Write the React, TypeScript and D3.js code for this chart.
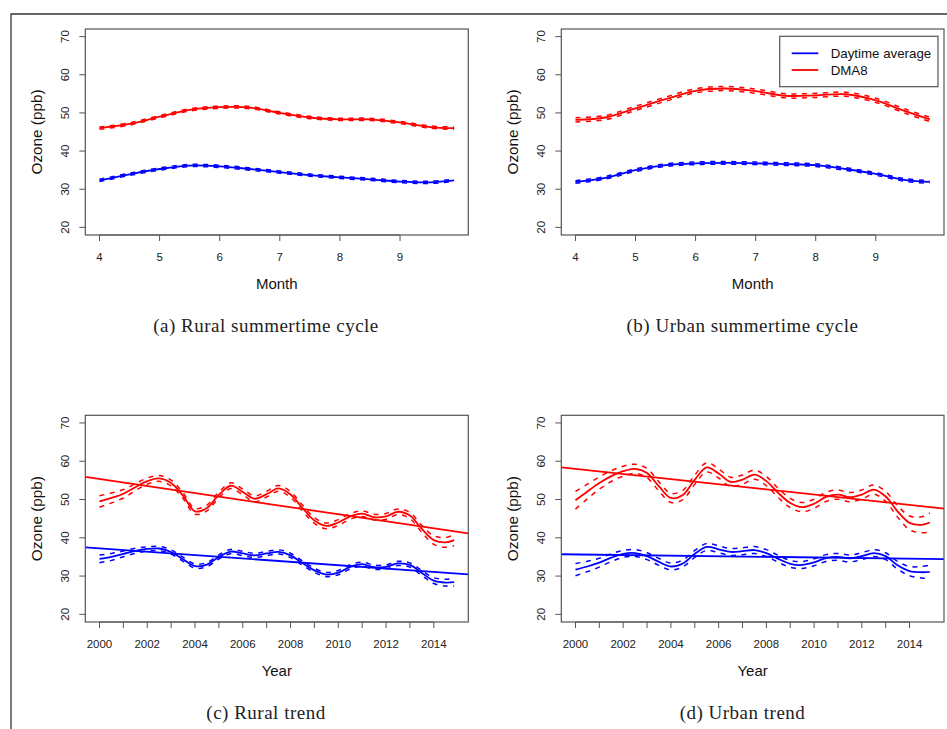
import { useRef, useEffect } from 'react';
import * as d3 from 'd3';

const RED = '#ff0000';
const BLUE = '#0000ff';
const AXIS_GREY = '#555555';

// seasonal cycle (month of year)
const MONTHS = [4, 4.5, 5, 5.5, 6, 6.5, 7, 7.5, 8, 8.5, 9, 9.5, 9.9];
const RURAL_CYCLE_DMA8 = [46.0, 47.1, 49.0, 50.8, 51.5, 51.4, 50.0, 48.8, 48.3, 48.3, 47.5, 46.3, 46.0];
const RURAL_CYCLE_DAY = [32.3, 33.9, 35.3, 36.2, 36.0, 35.3, 34.5, 33.7, 33.1, 32.6, 32.0, 31.8, 32.3];
const URBAN_CYCLE_DMA8 = [48.2, 48.8, 51.2, 53.6, 55.8, 56.4, 55.7, 54.5, 54.6, 54.9, 53.3, 50.4, 48.3];
const URBAN_CYCLE_DAY = [31.9, 33.0, 35.0, 36.3, 36.8, 36.9, 36.8, 36.6, 36.3, 35.3, 34.0, 32.4, 31.9];
const RURAL_CYCLE_CI = [0.3, 0.3];   // DMA8, daytime
const URBAN_CYCLE_CI = [0.55, 0.35];

// long-term trend
const YEARS = [2000, 2000.5, 2001, 2001.5, 2002, 2002.5, 2003, 2003.5, 2004, 2004.5, 2005, 2005.5,
  2006, 2006.5, 2007, 2007.5, 2008, 2008.5, 2009, 2009.5, 2010, 2010.5, 2011, 2011.5, 2012, 2012.5,
  2013, 2013.5, 2014, 2014.5, 2014.85];
const RURAL_TREND_DMA8 = [49.5, 50.4, 51.5, 53.2, 54.8, 55.5, 54.3, 51.0, 46.9, 47.8, 51.2, 53.6, 52.0, 50.2,
  51.4, 52.9, 51.3, 47.8, 44.5, 43.1, 44.0, 45.6, 46.3, 45.4, 45.6, 46.8, 45.8, 42.3, 39.4, 38.8, 39.4];
const RURAL_TREND_DAY = [34.5, 35.0, 35.8, 36.6, 37.1, 37.2, 36.3, 34.4, 32.6, 33.0, 35.0, 36.4, 35.9, 35.4,
  35.9, 36.3, 35.4, 33.4, 31.5, 30.4, 30.9, 32.4, 33.1, 32.3, 32.4, 33.3, 32.9, 30.8, 28.8, 28.3, 28.4];
const URBAN_TREND_DMA8 = [49.8, 52.1, 54.3, 56.1, 57.4, 58.0, 56.9, 53.4, 50.4, 51.2, 55.2, 58.4, 56.8, 54.6,
  55.2, 56.5, 54.8, 51.7, 49.1, 48.0, 48.9, 50.7, 51.3, 50.6, 51.3, 52.6, 50.8, 46.9, 43.9, 43.4, 44.0];
const URBAN_TREND_DAY = [31.7, 32.5, 33.5, 34.8, 35.8, 36.0, 35.2, 33.7, 32.5, 33.3, 35.8, 37.6, 37.0, 36.3,
  36.5, 36.8, 36.0, 34.5, 33.2, 32.9, 33.6, 34.7, 35.0, 34.6, 35.2, 36.0, 35.2, 32.8, 31.3, 31.0, 31.1];
const RURAL_CI_DMA8 = [1.5, 1.3, 1.1, 0.9, 0.8, 0.75, 0.75, 0.75, 0.75, 0.75, 0.75, 0.75, 0.75, 0.75, 0.75,
  0.75, 0.75, 0.75, 0.75, 0.75, 0.75, 0.75, 0.75, 0.75, 0.75, 0.75, 0.8, 0.9, 1.1, 1.3, 1.45];
const RURAL_CI_DAY = [1.0, 0.9, 0.75, 0.65, 0.55, 0.55, 0.55, 0.55, 0.55, 0.55, 0.55, 0.55, 0.55, 0.55, 0.55,
  0.55, 0.55, 0.55, 0.55, 0.55, 0.55, 0.55, 0.55, 0.55, 0.55, 0.55, 0.55, 0.65, 0.75, 0.9, 1.0];
const URBAN_CI_DMA8 = [2.3, 1.9, 1.6, 1.4, 1.3, 1.2, 1.2, 1.2, 1.2, 1.2, 1.2, 1.2, 1.2, 1.2, 1.2,
  1.2, 1.2, 1.2, 1.2, 1.2, 1.2, 1.2, 1.2, 1.2, 1.2, 1.2, 1.3, 1.5, 1.8, 2.1, 2.5];
const URBAN_CI_DAY = [1.6, 1.35, 1.15, 1.0, 0.9, 0.9, 0.9, 0.9, 0.9, 0.9, 0.9, 0.9, 0.9, 0.9, 0.9,
  0.9, 0.9, 0.9, 0.9, 0.9, 0.9, 0.9, 0.9, 0.9, 0.9, 0.9, 0.9, 1.0, 1.2, 1.5, 1.8];
// linear fits: [level at 2000, slope per year]
const RURAL_FIT_DMA8 = [55.35, -0.92];
const RURAL_FIT_DAY = [37.24, -0.44];
const URBAN_FIT_DMA8 = [58.0, -0.671];
const URBAN_FIT_DAY = [35.65, -0.078];

const Y_TICKS = [20, 30, 40, 50, 60, 70];
const MONTH_TICKS = [4, 5, 6, 7, 8, 9];
const YEAR_TICKS = d3.range(2000, 2015);
const LEGEND = ['Daytime average', 'DMA8'];

const LEFT_COL = { left: 85.3, right: 468.3, capX: 266 };
const RIGHT_COL = { left: 561.3, right: 944, capX: 742.5 };
const TOP_ROW = { top: 29, bottom: 235 };
const BOTTOM_ROW = { top: 415.3, bottom: 622 };

// R style 4% padding around the data range
const pad = ([a, b]: number[]) => [a - (b - a) * 0.04, b + (b - a) * 0.04];

const PANELS = [
  { id: 'a', ...LEFT_COL, ...TOP_ROW, x: MONTHS, xTicks: MONTH_TICKS, xLab: 'Month', legend: false,
    caption: '(a) Rural summertime cycle',
    series: [
      { y: RURAL_CYCLE_DAY, ci: MONTHS.map(() => RURAL_CYCLE_CI[1]), color: BLUE },
      { y: RURAL_CYCLE_DMA8, ci: MONTHS.map(() => RURAL_CYCLE_CI[0]), color: RED },
    ], fits: [] as { f: number[]; color: string }[] },
  { id: 'b', ...RIGHT_COL, ...TOP_ROW, x: MONTHS, xTicks: MONTH_TICKS, xLab: 'Month', legend: true,
    caption: '(b) Urban summertime cycle',
    series: [
      { y: URBAN_CYCLE_DAY, ci: MONTHS.map(() => URBAN_CYCLE_CI[1]), color: BLUE },
      { y: URBAN_CYCLE_DMA8, ci: MONTHS.map(() => URBAN_CYCLE_CI[0]), color: RED },
    ], fits: [] },
  { id: 'c', ...LEFT_COL, ...BOTTOM_ROW, x: YEARS, xTicks: YEAR_TICKS, xLab: 'Year', legend: false,
    caption: '(c) Rural trend',
    series: [
      { y: RURAL_TREND_DAY, ci: RURAL_CI_DAY, color: BLUE },
      { y: RURAL_TREND_DMA8, ci: RURAL_CI_DMA8, color: RED },
    ], fits: [{ f: RURAL_FIT_DAY, color: BLUE }, { f: RURAL_FIT_DMA8, color: RED }] },
  { id: 'd', ...RIGHT_COL, ...BOTTOM_ROW, x: YEARS, xTicks: YEAR_TICKS, xLab: 'Year', legend: false,
    caption: '(d) Urban trend',
    series: [
      { y: URBAN_TREND_DAY, ci: URBAN_CI_DAY, color: BLUE },
      { y: URBAN_TREND_DMA8, ci: URBAN_CI_DMA8, color: RED },
    ], fits: [{ f: URBAN_FIT_DAY, color: BLUE }, { f: URBAN_FIT_DMA8, color: RED }] },
];

export default function App() {
  const svgRef = useRef<SVGSVGElement>(null);

  useEffect(() => {
    const svg = d3.select(svgRef.current);
    svg.selectAll('*').remove();
    const sans = 'Liberation Sans, Arial, sans-serif';

    // frame of the figure
    svg.append('path').attr('d', 'M11,729 L11,14 L947,14')
      .attr('fill', 'none').attr('stroke', '#333').attr('stroke-width', 1.3);

    PANELS.forEach(p => {
      const x = d3.scaleLinear().domain(pad(d3.extent(p.x) as number[])).range([p.left, p.right]);
      const y = d3.scaleLinear().domain(pad([20, 70])).range([p.bottom, p.top]);
      const g = svg.append('g');

      g.append('clipPath').attr('id', `clip-${p.id}`)
        .append('rect').attr('x', p.left).attr('y', p.top)
        .attr('width', p.right - p.left).attr('height', p.bottom - p.top);
      const plot = g.append('g').attr('clip-path', `url(#clip-${p.id})`);

      // fitted linear trends
      p.fits.forEach(({ f, color }) => {
        const [x0, x1] = x.domain();
        plot.append('line')
          .attr('x1', x(x0)).attr('y1', y(f[0] + f[1] * (x0 - 2000)))
          .attr('x2', x(x1)).attr('y2', y(f[0] + f[1] * (x1 - 2000)))
          .attr('stroke', color).attr('stroke-width', 1.8);
      });

      p.series.forEach(s => {
        const mk = (off: number) => d3.line<number>()
          .x((_, i) => x(p.x[i]))
          .y((v, i) => y(v + off * s.ci[i]))
          .curve(d3.curveCatmullRom)(s.y);
        [-1, 1].forEach(k => {
          plot.append('path').attr('d', mk(k)).attr('fill', 'none')
            .attr('stroke', s.color).attr('stroke-width', 1.5).attr('stroke-dasharray', '5,5.5');
        });
        plot.append('path').attr('d', mk(0)).attr('fill', 'none')
          .attr('stroke', s.color).attr('stroke-width', 1.8);
      });

      // box
      g.append('rect').attr('x', p.left).attr('y', p.top)
        .attr('width', p.right - p.left).attr('height', p.bottom - p.top)
        .attr('fill', 'none').attr('stroke', AXIS_GREY).attr('stroke-width', 1.2);

      // y axis
      Y_TICKS.forEach(t => {
        g.append('line').attr('x1', p.left).attr('x2', p.left - 6)
          .attr('y1', y(t)).attr('y2', y(t)).attr('stroke', AXIS_GREY).attr('stroke-width', 1);
        g.append('text')
          .attr('transform', `translate(${p.left - 20},${y(t)}) rotate(-90)`)
          .attr('text-anchor', 'middle').attr('dominant-baseline', 'central')
          .attr('font-family', sans).attr('font-size', 11.5).attr('fill', '#222')
          .text(t);
      });
      g.append('text')
        .attr('transform', `translate(${p.left - 49},${(p.top + p.bottom) / 2}) rotate(-90)`)
        .attr('text-anchor', 'middle').attr('dominant-baseline', 'central')
        .attr('font-family', sans).attr('font-size', 15.3).attr('fill', '#111')
        .text('Ozone (ppb)');

      // x axis
      p.xTicks.forEach(t => {
        g.append('line').attr('x1', x(t)).attr('x2', x(t))
          .attr('y1', p.bottom).attr('y2', p.bottom + 6).attr('stroke', AXIS_GREY).attr('stroke-width', 1);
        if (p.xLab === 'Year' && t % 2 === 1) return;
        g.append('text').attr('x', x(t)).attr('y', p.bottom + 22)
          .attr('text-anchor', 'middle').attr('dominant-baseline', 'central')
          .attr('font-family', sans).attr('font-size', 11.5).attr('fill', '#222')
          .text(t);
      });
      g.append('line').attr('x1', x(p.xTicks[0])).attr('x2', x(p.xTicks[p.xTicks.length - 1]))
        .attr('y1', p.bottom).attr('y2', p.bottom).attr('stroke', AXIS_GREY);
      g.append('text').attr('x', (p.left + p.right) / 2).attr('y', p.bottom + 48)
        .attr('text-anchor', 'middle').attr('dominant-baseline', 'central')
        .attr('font-family', sans).attr('font-size', 15).attr('fill', '#111')
        .text(p.xLab);

      // caption
      g.append('text').attr('x', p.capX).attr('y', p.bottom + 90)
        .attr('text-anchor', 'middle').attr('dominant-baseline', 'central')
        .attr('font-family', 'Liberation Serif, Times New Roman, serif').attr('font-size', 19)
        .attr('letter-spacing', 0.5).attr('fill', '#222')
        .text(p.caption);

      if (p.legend) {
        const lg = g.append('g');
        lg.append('rect').attr('x', 779.7).attr('y', 36.3).attr('width', 158.3).attr('height', 50.4)
          .attr('fill', 'white').attr('stroke', AXIS_GREY).attr('stroke-width', 1.2);
        LEGEND.forEach((name, i) => {
          const ly = 53.3 + i * 16.7;
          lg.append('line').attr('x1', 791.7).attr('x2', 818.3).attr('y1', ly).attr('y2', ly)
            .attr('stroke', i === 0 ? BLUE : RED).attr('stroke-width', 1.8);
          lg.append('text').attr('x', 830.7).attr('y', ly).attr('dominant-baseline', 'central')
            .attr('font-family', sans).attr('font-size', 13.3).attr('fill', '#111')
            .text(name);
        });
      }
    });
  }, []);

  return (
    <div style={{ position: 'absolute', left: 0, top: 0, background: 'white' }}>
      <svg ref={svgRef} width={947} height={729} style={{ display: 'block' }} />
    </div>
  );
}
